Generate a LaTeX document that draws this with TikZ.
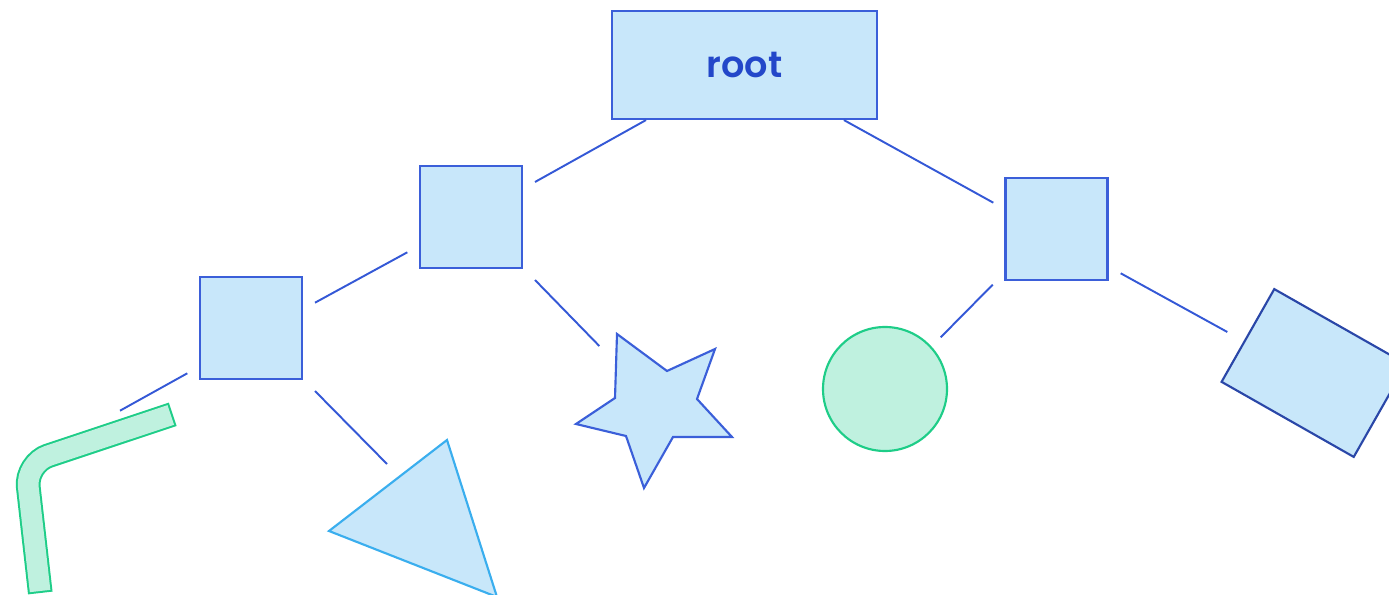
\documentclass[tikz,border=0pt]{standalone}
\usepackage{fontspec}
\newfontfamily\labelfont{Poppins}[UprightFont={* SemiBold}]
\usetikzlibrary{calc}

\definecolor{boxfill}{HTML}{C8E7FA}
\definecolor{boxline}{HTML}{3B5FD9}
\definecolor{linkblue}{HTML}{3458D6}
\definecolor{labelblue}{HTML}{2347C9}
\definecolor{navyline}{HTML}{2A47A8}
\definecolor{skyline}{HTML}{3AAEEE}
\definecolor{greenfill}{HTML}{BFF1DF}
\definecolor{greenline}{HTML}{1ECD88}

\begin{document}
\begin{tikzpicture}[x=0.75pt, y=-0.75pt,
  box/.style={draw=boxline, fill=boxfill, line width=1.6pt, inner sep=0pt},
  sq/.style={box, minimum size=76.5pt},
  link/.style={draw=linkblue, line width=1.45pt},
  blob/.style={draw=greenline, fill=greenfill, line width=1.6pt},
  ]
\useasboundingbox (0,0) rectangle (1389,595);
\clip (0,0) rectangle (1389,595);

% tree nodes
\node[box, minimum width=198.75pt, minimum height=81pt, text=labelblue,
      font=\labelfont\fontsize{27.5}{30}\selectfont] (root) at (744.5,65) {\raisebox{-0.8pt}{root}};
\node[sq] (A) at (471,217) {};
\node[sq] (B) at (1056.5,229) {};
\node[sq] (C) at (251,328) {};

% leaves
\node[circle, blob, minimum size=93pt, inner sep=0pt] (ball) at (885,389) {};
\node[box, draw=navyline, minimum width=114pt, minimum height=80pt, rotate=-29.6] (tile) at (1314,373) {};

\coordinate (star) at (657,406);
\draw[box, line join=miter] (617,334) -- (667,371) -- (715,349) -- (697,399) -- (732,437)
  -- (673,437) -- (644,488) -- (626,436) -- (576,424) -- (615,398) -- cycle;

\coordinate (t1) at (447,440);
\coordinate (t2) at (329,531);
\coordinate (t3) at (497,597);
\draw[box, draw=skyline, line join=miter] (t1) -- (t2) -- (t3) -- cycle;

% bent green tube
\coordinate (gtop) at (172.7,414.3);
\coordinate (gbend) at (25.6,463.3);
\coordinate (gfoot) at (40.3,593);
\draw[greenline, line width=18.5pt, rounded corners=18pt] (gtop) -- (gbend) -- (gfoot);
\draw[greenfill, line width=15.5pt, rounded corners=18pt, shorten <=1.5pt, shorten >=1.5pt]
  (gtop) -- (gbend) -- (gfoot);

% connectors
\draw[link] (root) -- ([shift={(64,-35)}]A.center);
\draw[link] (root) -- ([shift={(-63.2,-26.3)}]B.center);
\draw[link] ([shift={(-63.7,35.3)}]A.center) -- ([shift={(64,-25.3)}]C.center);
\draw[link] ([shift={(64,63)}]A.center) -- ([shift={(-57.7,-60)}]star);
\draw[link] ([shift={(-63.8,55.7)}]B.center) -- ([shift={(55.7,-51.7)}]ball.center);
\draw[link] ([shift={(64.2,44.3)}]B.center) -- ([shift={(-86.7,-41)}]tile.center);
\draw[link] ([shift={(-63.7,45.3)}]C.center) -- ([shift={(-52.7,-3.6)}]gtop);
\draw[link] ([shift={(64,63)}]C.center) -- ([shift={(-60,24)}]t1);
\end{tikzpicture}
\end{document}
